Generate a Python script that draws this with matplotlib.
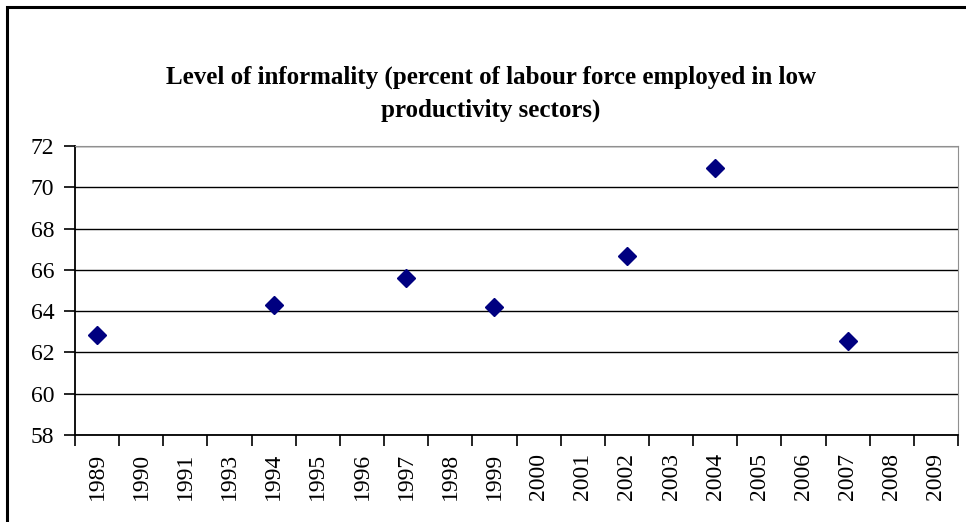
import numpy as np
import matplotlib
matplotlib.use('Agg')
import matplotlib.pyplot as plt
from matplotlib.patches import Rectangle

plt.rcParams['font.family'] = ['Liberation Serif', 'DejaVu Serif']

# category axis (note: 1992 is missing in the source)
years = ['1989', '1990', '1991', '1993', '1994', '1995', '1996', '1997', '1998', '1999',
         '2000', '2001', '2002', '2003', '2004', '2005', '2006', '2007', '2008', '2009']
obs_years = ['1989', '1994', '1997', '1999', '2002', '2004', '2007']
informality = [62.85, 64.3, 65.6, 64.2, 66.65, 70.95, 62.55]

fig = plt.figure(figsize=(9.66, 5.22), dpi=100)
ax = fig.add_axes([75 / 966, (522 - 435) / 522, (958 - 75) / 966, (435 - 146) / 522])

x = np.array([years.index(y) for y in obs_years]) + 0.5
ax.plot(x, informality, linestyle='none', marker='D', markersize=9.5,
        color='#000080')

ax.set_xlim(0, len(years))
ax.set_ylim(58, 72)
ax.set_yticks(np.arange(58, 73, 2))
ax.set_xticks(np.arange(len(years) + 1))
ax.set_xticklabels([])
ax.set_xticks(np.arange(len(years)) + 0.5, minor=True)
ax.set_xticklabels(years, minor=True, rotation=90)
ax.tick_params(axis='x', which='minor', length=0, labelsize=17, pad=13)
ax.tick_params(axis='x', which='major', length=8, width=1.2, direction='out')
ax.tick_params(axis='y', length=8, width=1.2, direction='out', labelsize=17, pad=7)

ax.grid(axis='y', color='black', linewidth=1)
ax.set_axisbelow(True)
for side in ['left', 'bottom']:
    ax.spines[side].set_linewidth(1.3)
    ax.spines[side].set_color('black')
ax.spines['right'].set_color('#909090')
ax.spines['top'].set_color('#909090')

fig.text(491 / 966, 1 - 77 / 522, 'Level of informality (percent of labour force employed in low',
         ha='center', va='center', fontsize=18, fontweight='bold')
fig.text(491 / 966, 1 - 110 / 522, 'productivity sectors)',
         ha='center', va='center', fontsize=18, fontweight='bold')

# outer chart frame
fig.patches.append(Rectangle((7 / 966, -0.05), 1.1, 1 - 7 / 522 + 0.05,
                             transform=fig.transFigure, fill=False,
                             edgecolor='black', linewidth=2.2))

plt.savefig('out.png', dpi=100)
